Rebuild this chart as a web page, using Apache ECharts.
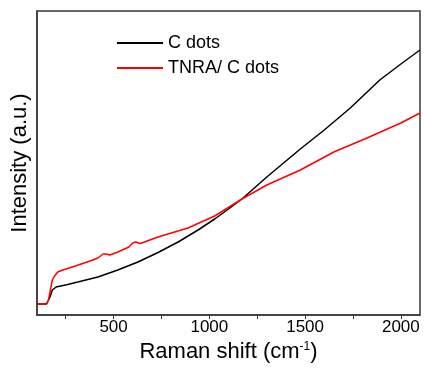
<!DOCTYPE html>
<html>
<head>
<meta charset="utf-8">
<script src="https://cdn.jsdelivr.net/npm/echarts@6/dist/echarts.min.js"></script>
<style>
    html, body { margin: 0; padding: 0; background: #fff; }
    #chart { width: 424px; height: 368px; }
</style>
</head>
<body>
<div id="chart"></div>
<script>
// Raman shift (cm-1) / intensity (intensity in arbitrary units)
const cDotsX = [100, 150, 160, 170, 180, 200, 260, 313, 418, 522, 627, 732, 837, 941, 1028, 1100, 1170, 1300, 1475, 1600, 1736, 1890, 2000, 2100];
const cDotsY = [11, 11, 13, 19, 25, 28, 30.5, 33, 38, 45, 53, 62.5, 73, 85, 96, 106, 116, 138, 166, 185, 207, 235, 251, 265];

const tnraX = [100, 150, 160, 170, 180, 190, 208, 235, 300, 392, 418, 445, 460, 480, 522, 580, 600, 615, 640, 732, 888, 1028, 1170, 1300, 1475, 1650, 1823, 2000, 2100];
const tnraY = [11, 11, 15, 25, 35, 38.5, 43, 45, 49, 55, 57, 61, 61, 60, 63, 68, 72, 73, 71.5, 78, 87, 99, 116, 130, 145, 163, 177, 192, 202];

const seriesNames = ['C dots', 'TNRA/ C dots'];
const xLabelValues = [500, 1000, 1500, 2000];
const xTickValues = [250, 500, 750, 1000, 1250, 1500, 1750, 2000];

function pairs(xs, ys) {
    return xs.map((x, i) => [x, ys[i]]);
}

const chart = echarts.init(document.getElementById('chart'));
const font = 'Liberation Sans, Arial, sans-serif';

chart.setOption({
    animation: false,
    backgroundColor: '#fff',
    grid: {
        left: 37,
        right: 4,
        top: 11,
        bottom: 53,
        show: true,
        borderColor: '#3a3a3a',
        borderWidth: 1.5
    },
    legend: {
        left: 112,
        top: 28,
        orient: 'vertical',
        icon: 'rect',
        itemWidth: 46,
        itemHeight: 2,
        itemGap: 5,
        textStyle: { fontFamily: font, fontSize: 18, color: '#000', lineHeight: 20 },
        data: seriesNames
    },
    xAxis: {
        type: 'value',
        min: 100,
        max: 2100,
        name: '{a|Raman shift (cm}{b|-1}{a|)}',
        nameLocation: 'middle',
        nameGap: 24,
        nameTextStyle: {
            rich: {
                a: { fontFamily: font, fontSize: 22, color: '#000' },
                b: { fontFamily: font, fontSize: 12, color: '#000', verticalAlign: 'top', padding: [0, 0, 10, 0] }
            }
        },
        axisLine: { lineStyle: { color: '#3a3a3a', width: 1.5 } },
        axisTick: { show: true, inside: false, length: 4, customValues: xTickValues, lineStyle: { color: '#3a3a3a' } },
        axisLabel: {
            customValues: xLabelValues,
            margin: 4,
            fontFamily: font,
            fontSize: 17,
            color: '#000',
            formatter: (v) => String(v)
        },
        splitLine: { show: false }
    },
    yAxis: {
        type: 'value',
        min: 0,
        max: 304,
        name: 'Intensity (a.u.)',
        nameLocation: 'middle',
        nameGap: 6,
        nameTextStyle: { fontFamily: font, fontSize: 22, color: '#000' },
        axisLine: { lineStyle: { color: '#3a3a3a', width: 1.5 } },
        axisTick: { show: false },
        axisLabel: { show: false },
        splitLine: { show: false }
    },
    series: [
        {
            name: seriesNames[0],
            type: 'line',
            showSymbol: false,
            lineStyle: { color: '#000', width: 1.5 },
            itemStyle: { color: '#000' },
            data: pairs(cDotsX, cDotsY)
        },
        {
            name: seriesNames[1],
            type: 'line',
            showSymbol: false,
            lineStyle: { color: '#ff0000', width: 1.5 },
            itemStyle: { color: '#ff0000' },
            data: pairs(tnraX, tnraY)
        }
    ]
});
</script>
</body>
</html>
